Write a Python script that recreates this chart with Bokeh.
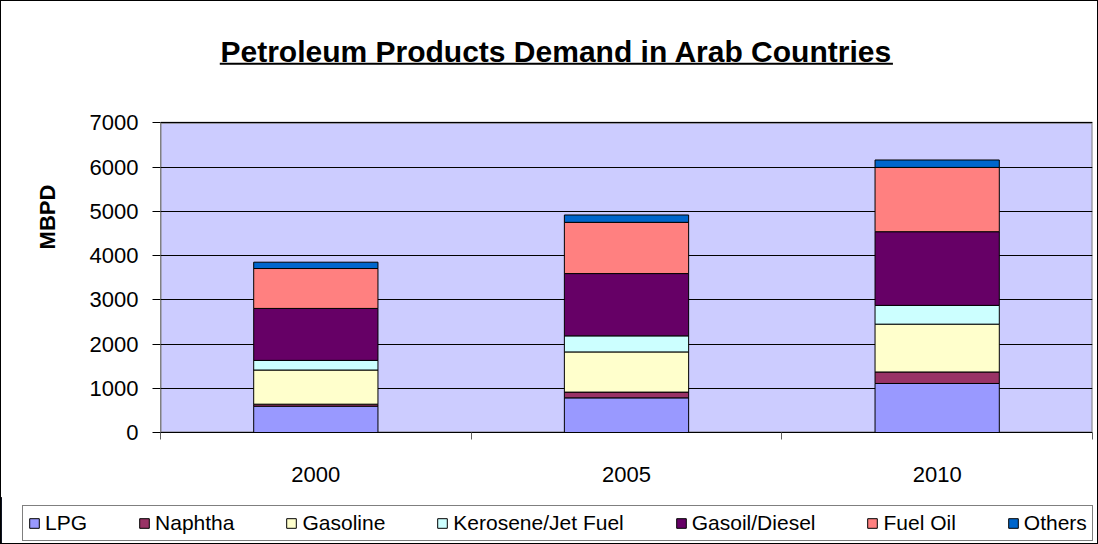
from bokeh.plotting import figure
from bokeh.models import Range1d, FixedTicker, Legend, LegendItem, ColumnDataSource
from bokeh.core.properties import value
from bokeh.embed import file_html
from bokeh.resources import INLINE

# ---------------- data ----------------
years = ["2000", "2005", "2010"]
products = ["LPG", "Naphtha", "Gasoline", "Kerosene/Jet Fuel",
            "Gasoil/Diesel", "Fuel Oil", "Others"]
lpg = [595, 783, 1108]
naphtha = [45, 130, 260]
gasoline = [772, 908, 1081]
kerosene = [218, 363, 424]
gasoil = [1174, 1408, 1665]
fuel_oil = [902, 1158, 1453]
others = [143, 166, 168]
y_ticks = [0, 1000, 2000, 3000, 4000, 5000, 6000, 7000]
title_text = "Petroleum Products Demand in Arab Countries"
y_label = "MBPD"

colors = ["#9999FF", "#993366", "#FFFFCC", "#CCFFFF", "#660066", "#FF8080", "#0066CC"]
keys = ["lpg", "naphtha", "gasoline", "kerosene", "gasoil", "fuel_oil", "others"]
FONT = "Liberation Sans"

# ---------------- layout (pixels, inside a 1px border) ----------------
W = 1096
MH, LH = 496, 46                # chart part / legend strip heights
FL, FR = 159, 7                 # plot area left / right margins
PLOT_TOP, PLOT_BOTTOM = 121, 430
FT = 0                          # frame reaches the top so the title can live in it
FB = MH - PLOT_BOTTOM
y_max = y_ticks[-1]
y_end = y_max * (PLOT_BOTTOM - FT) / (PLOT_BOTTOM - PLOT_TOP)


def px_x(px):
    return -0.5 + (px - FL) / (W - FL - FR) * len(years)


def px_y(py):
    return y_end * (PLOT_BOTTOM - py) / (PLOT_BOTTOM - FT)


pos = list(range(len(years)))
source = ColumnDataSource(dict(x=pos, lpg=lpg, naphtha=naphtha, gasoline=gasoline,
                               kerosene=kerosene, gasoil=gasoil, fuel_oil=fuel_oil,
                               others=others))

p = figure(width=W, height=MH, output_backend="svg", toolbar_location=None,
           x_range=Range1d(-0.5, len(years) - 0.5), y_range=Range1d(0, y_end),
           min_border_left=FL, min_border_right=FR, min_border_top=FT,
           min_border_bottom=FB, title=None)
p.background_fill_color = "white"
p.border_fill_color = "white"
p.outline_line_color = None
p.styles = {"border-top": "1px solid black", "border-left": "1px solid black",
            "border-right": "1px solid black", "box-sizing": "content-box"}

# plot area background
p.quad(left=[-0.5], right=[len(years) - 0.5], bottom=[0], top=[y_max],
       fill_color="#CCCCFF", line_color="#808080", line_width=2, level="image")

renderers = p.vbar_stack(keys, x="x", width=0.4, source=source, fill_color=colors,
                         line_color="black", line_width=1)

p.xgrid.visible = False
p.ygrid.grid_line_color = "black"
p.ygrid.grid_line_width = 1
p.ygrid.ticker = FixedTicker(ticks=y_ticks)

ya = p.yaxis[0]
ya.ticker = FixedTicker(ticks=y_ticks)
ya.bounds = (0, y_max)
ya.axis_line_color = "#808080"
ya.major_tick_out = 8
ya.major_tick_in = 0
ya.minor_tick_out = 0
ya.minor_tick_in = 0
ya.major_tick_line_color = "black"
ya.major_label_text_font = FONT
ya.major_label_text_font_size = "22px"
ya.major_label_text_color = "black"
ya.major_label_standoff = 14
ya.axis_label = y_label
ya.axis_label_text_font = FONT
ya.axis_label_text_font_size = "22px"
ya.axis_label_text_font_style = "bold"
ya.axis_label_text_color = "black"
ya.axis_label_standoff = 27

xa = p.xaxis[0]
xa.ticker = FixedTicker(ticks=pos, minor_ticks=[i - 0.5 for i in range(len(years) + 1)])
xa.major_label_overrides = {i: y for i, y in enumerate(years)}
xa.axis_line_color = "black"
xa.major_tick_out = 0
xa.major_tick_in = 0
xa.minor_tick_out = 7
xa.minor_tick_in = 0
xa.minor_tick_line_color = "#606060"
xa.major_label_text_font = FONT
xa.major_label_text_font_size = "22px"
xa.major_label_text_color = "black"
xa.major_label_standoff = 27

# title with underline (drawn inside the tall frame)
TITLE_PX = 30
title_w = 22.39 * TITLE_PX
p.text(x=[px_x(554)], y=[px_y(50)], text=[title_text], text_align="center",
       text_baseline="middle", text_font=value(FONT), text_font_size=f"{TITLE_PX}px",
       text_font_style="bold", text_color="black")
p.segment(x0=[px_x(554 - title_w / 2)], y0=[px_y(62)], x1=[px_x(554 + title_w / 2)],
          y1=[px_y(62)], line_color="black", line_width=2)

# ---------------- legend strip (separate root, full-width frame) ----------------
lp = figure(width=W, height=LH, output_backend="svg", toolbar_location=None,
            x_range=Range1d(0, 1), y_range=Range1d(0, 1),
            x_axis_location=None, y_axis_location=None,
            min_border=0, min_border_left=0, min_border_right=0,
            min_border_top=0, min_border_bottom=0, title=None)
lp.grid.visible = False
lp.outline_line_color = None
lp.background_fill_color = "white"
lp.border_fill_color = "white"
lp.styles = {"border-bottom": "1px solid black", "border-left": "1px solid black",
             "border-right": "1px solid black", "box-sizing": "content-box"}
# legend swatches (kept outside the visible range; only their legend glyphs show)
swatches = [lp.vbar(x=[-1], top=[1], width=0.4, fill_color=c, line_color="black")
            for c in colors]
items = [LegendItem(label=products[i], renderers=[swatches[i]]) for i in range(len(products))]
legend = Legend(items=items, orientation="horizontal", location=(21, 3),
                label_text_font=FONT, label_text_font_size="21px",
                label_text_color="black", glyph_width=12, glyph_height=12,
                label_standoff=5, spacing=51, padding=5, margin=0,
                border_line_color="black", border_line_width=1,
                background_fill_color="white", background_fill_alpha=1)
lp.add_layout(legend, "center")

open("out.html", "w").write(file_html([p, lp], INLINE))
